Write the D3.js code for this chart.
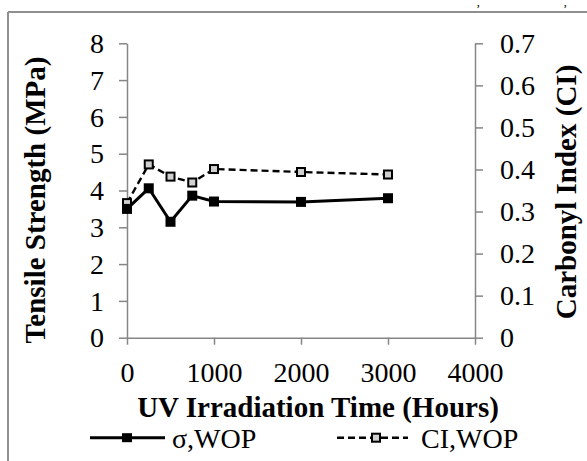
<!DOCTYPE html>
<html>
<head>
<meta charset="utf-8">
<script src="https://cdn.jsdelivr.net/npm/d3@7"></script>
<style>
  body { margin: 0; background: #fff; }
  svg { display: block; font-family: "Liberation Serif", "Times New Roman", serif; }
  .axis path, .axis line { stroke: #868686; stroke-width: 1.5; }
  .axis text { font-size: 28px; fill: #000; font-family: "Liberation Serif", serif; }
  .title { font-size: 29px; font-weight: bold; }
</style>
</head>
<body>
<script>
// data
var hours = [0, 250, 500, 750, 1000, 2000, 3000];
var sigmaWOP = [3.50, 4.06, 3.15, 3.86, 3.70, 3.69, 3.79];   // tensile strength, MPa
var ciWOP = [0.32, 0.412, 0.383, 0.369, 0.401, 0.394, 0.388]; // carbonyl index

var xTicks = [0, 1000, 2000, 3000, 4000];
var yLeftTicks = [0, 1, 2, 3, 4, 5, 6, 7, 8];
var yRightTicks = [0, 0.1, 0.2, 0.3, 0.4, 0.5, 0.6, 0.7];

var width = 587, height = 461;
var plot = { left: 127, right: 475, top: 43.3, bottom: 337.7 };

var svg = d3.select("body").append("svg")
    .attr("width", width)
    .attr("height", height);

// scales
var x = d3.scaleLinear().domain([0, 4000]).range([plot.left, plot.right]);
var yL = d3.scaleLinear().domain([0, 8]).range([plot.bottom, plot.top]);
var yR = d3.scaleLinear().domain([0, 0.7]).range([plot.bottom, plot.top]);

// outer frame (top and left edges only visible)
svg.append("line").attr("x1", 8).attr("x2", width + 5).attr("y1", 12).attr("y2", 12)
    .attr("stroke", "#8f8f8f").attr("stroke-width", 2);
svg.append("line").attr("x1", 8).attr("x2", 8).attr("y1", 12).attr("y2", height + 5)
    .attr("stroke", "#8f8f8f").attr("stroke-width", 2);

// small marks above the frame
svg.append("text").attr("x", 476).attr("y", 13).style("font-size", "13px").text("ʼ");
svg.append("text").attr("x", 563).attr("y", 13).style("font-size", "13px").text("ʼ");

// axes
var gx = svg.append("g").attr("class", "axis")
    .attr("transform", "translate(0," + plot.bottom + ")")
    .call(d3.axisBottom(x).tickValues(xTicks).tickSize(7).tickSizeOuter(0).tickFormat(d3.format("d")));
gx.selectAll("text").attr("y", 44.3).attr("dy", 0);

var gl = svg.append("g").attr("class", "axis")
    .attr("transform", "translate(" + plot.left + ",0)")
    .call(d3.axisLeft(yL).tickValues(yLeftTicks).tickSize(8).tickSizeOuter(0).tickPadding(15));
gl.selectAll("text").attr("dy", "0.33em");

var gr = svg.append("g").attr("class", "axis")
    .attr("transform", "translate(" + plot.right + ",0)")
    .call(d3.axisRight(yR).tickValues(yRightTicks).tickSize(8).tickSizeOuter(0).tickPadding(17)
        .tickFormat(function (d) { return d === 0 ? "0" : d3.format(".1f")(d); }));
gr.selectAll("text").attr("dy", "0.33em");

// axis titles
svg.append("text").attr("class", "title")
    .attr("x", 318).attr("y", 417)
    .attr("text-anchor", "middle")
    .text("UV Irradiation Time (Hours)");

svg.append("text").attr("class", "title")
    .attr("transform", "translate(45,200) rotate(-90)")
    .attr("text-anchor", "middle")
    .text("Tensile Strength (MPa)");

svg.append("text").attr("class", "title")
    .attr("transform", "translate(576,192) rotate(-90)")
    .attr("text-anchor", "middle")
    .text("Carbonyl Index (CI)");

// series
var sigmaData = hours.map(function (h, i) { return { x: h, y: sigmaWOP[i] }; });
var ciData = hours.map(function (h, i) { return { x: h, y: ciWOP[i] }; });

var lineL = d3.line().x(function (d) { return x(d.x); }).y(function (d) { return yL(d.y); });
var lineR = d3.line().x(function (d) { return x(d.x); }).y(function (d) { return yR(d.y); });

svg.append("path").datum(ciData)
    .attr("d", lineR)
    .attr("fill", "none").attr("stroke", "#000")
    .attr("stroke-width", 2.4).attr("stroke-dasharray", "7,4");

svg.append("path").datum(sigmaData)
    .attr("d", lineL)
    .attr("fill", "none").attr("stroke", "#000")
    .attr("stroke-width", 3);

svg.selectAll(".ciMark").data(ciData).enter().append("rect")
    .attr("class", "ciMark")
    .attr("x", function (d) { return x(d.x) - 4; })
    .attr("y", function (d) { return yR(d.y) - 4; })
    .attr("width", 8).attr("height", 8)
    .attr("fill", "#d0d0d0").attr("stroke", "#000").attr("stroke-width", 2);

svg.selectAll(".sMark").data(sigmaData).enter().append("rect")
    .attr("class", "sMark")
    .attr("x", function (d) { return x(d.x) - 5; })
    .attr("y", function (d) { return yL(d.y) - 5; })
    .attr("width", 10).attr("height", 10)
    .attr("fill", "#000");

// legend
var legY = 437.7;
svg.append("line").attr("x1", 90).attr("x2", 165).attr("y1", legY).attr("y2", legY)
    .attr("stroke", "#000").attr("stroke-width", 3);
svg.append("rect").attr("x", 122).attr("y", legY - 4.5).attr("width", 10).attr("height", 9).attr("fill", "#000");
svg.append("text").attr("x", 172).attr("y", 447.5).style("font-size", "28px").text("σ,WOP");

svg.append("line").attr("x1", 337).attr("x2", 408).attr("y1", legY).attr("y2", legY)
    .attr("stroke", "#000").attr("stroke-width", 2.4).attr("stroke-dasharray", "7,4");
svg.append("rect").attr("x", 372).attr("y", legY - 4).attr("width", 8).attr("height", 8)
    .attr("fill", "#d0d0d0").attr("stroke", "#000").attr("stroke-width", 2);
svg.append("text").attr("x", 421).attr("y", 447.5).style("font-size", "28px").text("CI,WOP");
</script>
</body>
</html>
